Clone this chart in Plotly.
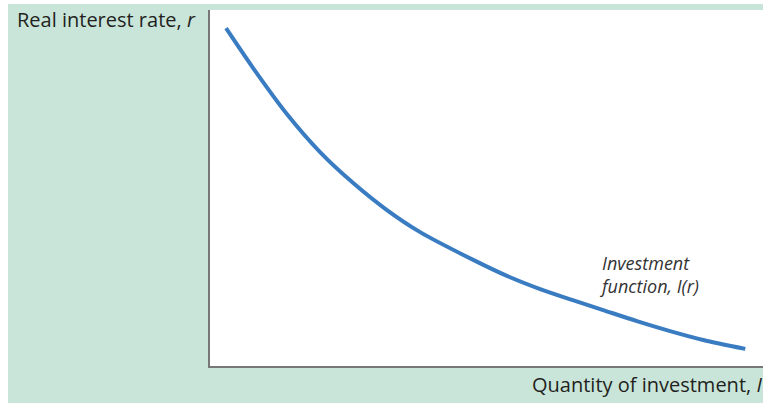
import plotly.graph_objects as go

# Investment function I(r): quantity of investment (x) vs real interest rate (y)
investment = [0.29, 0.78, 1.39, 1.99, 2.59, 3.20, 3.80, 4.76, 5.37, 5.97,
              6.56, 7.11, 7.72, 8.32, 8.92, 9.68]
interest_rate = [9.49, 8.37, 7.08, 6.01, 5.14, 4.38, 3.76, 2.98, 2.53, 2.16,
                 1.85, 1.57, 1.26, 0.98, 0.73, 0.48]

y_title = "Real interest rate, <i>r</i>"
x_title = "Quantity of investment, <i>I</i>"
curve_label = "<i>Investment<br>function, I(r)</i>"

GREEN = "#c9e5da"
TEXT = "#231f20"
FONT = "Open Sans"

W, H = 763, 403
L, R, T, B = 210, 0, 10, 37
pw, ph = W - L - R, H - T - B


def px_to_paper_x(px):
    return (px - L) / pw


def px_to_paper_y(py):
    return (H - B - py) / ph


fig = go.Figure()
fig.add_trace(go.Scatter(
    x=investment, y=interest_rate, mode="lines",
    line=dict(color="#3a7cc1", width=4, shape="spline", smoothing=0.8),
    hoverinfo="skip", showlegend=False,
))

fig.add_annotation(
    x=6.99, y=2.56, xref="x", yref="y", text=curve_label, showarrow=False,
    xanchor="left", yanchor="middle", align="left",
    font=dict(family=FONT, size=18, color="#333333"),
)
fig.add_annotation(
    x=px_to_paper_x(15), y=px_to_paper_y(20), xref="paper", yref="paper",
    text=y_title, showarrow=False, xanchor="left", yanchor="middle",
    font=dict(family=FONT, size=20, color=TEXT),
)
fig.add_annotation(
    x=px_to_paper_x(530), y=px_to_paper_y(384), xref="paper", yref="paper",
    text=x_title, showarrow=False, xanchor="left", yanchor="middle",
    font=dict(family=FONT, size=20, color=TEXT),
)

# white strips framing the green panel at the top and left edges
fig.add_shape(type="rect", xref="paper", yref="paper",
              x0=px_to_paper_x(0), x1=px_to_paper_x(8),
              y0=px_to_paper_y(H), y1=px_to_paper_y(0),
              fillcolor="white", line_width=0, layer="below")
fig.add_shape(type="rect", xref="paper", yref="paper",
              x0=px_to_paper_x(0), x1=px_to_paper_x(W),
              y0=px_to_paper_y(4), y1=px_to_paper_y(0),
              fillcolor="white", line_width=0, layer="below")

axis_common = dict(showgrid=False, zeroline=False, showticklabels=False,
                   ticks="", showline=True, linecolor="#777777", linewidth=1.5,
                   fixedrange=True)
fig.update_xaxes(range=[0, 10], **axis_common)
fig.update_yaxes(range=[0, 10], **axis_common)

fig.update_layout(
    width=W, height=H,
    margin=dict(l=L, r=R, t=T, b=B),
    paper_bgcolor=GREEN, plot_bgcolor="white",
)

fig.write_html("out.html", config={"displayModeBar": False})
